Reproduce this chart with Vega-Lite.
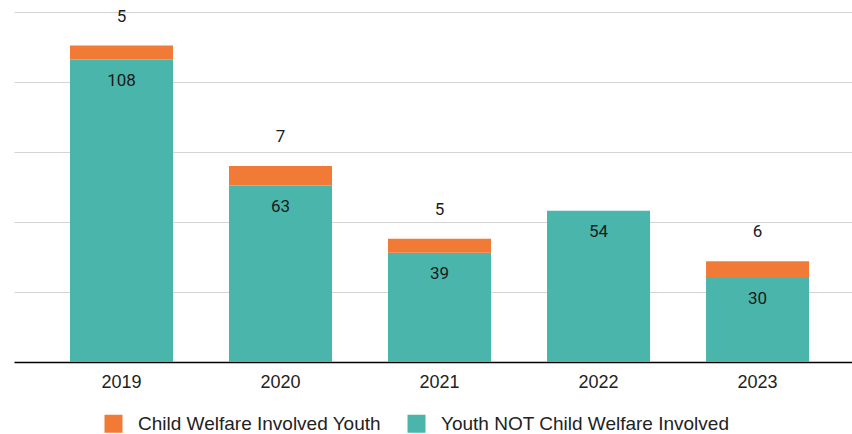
{
  "$schema": "https://vega.github.io/schema/vega-lite/v6.json",
  "width": 838,
  "height": 350,
  "autosize": {"type": "none"},
  "padding": {"left": 14, "top": 12, "right": 0, "bottom": 72},
  "background": "white",
  "config": {
    "view": {"stroke": null},
    "font": "Liberation Sans",
    "axis": {"labelFont": "Liberation Sans", "labelColor": "#222222", "labelFontSize": 18}
  },
  "data": {
    "values": [
      {"year": "2019", "category": "Youth NOT Child Welfare Involved", "value": 108, "o": 1},
      {"year": "2019", "category": "Child Welfare Involved Youth", "value": 5, "o": 2},
      {"year": "2020", "category": "Youth NOT Child Welfare Involved", "value": 63, "o": 1},
      {"year": "2020", "category": "Child Welfare Involved Youth", "value": 7, "o": 2},
      {"year": "2021", "category": "Youth NOT Child Welfare Involved", "value": 39, "o": 1},
      {"year": "2021", "category": "Child Welfare Involved Youth", "value": 5, "o": 2},
      {"year": "2022", "category": "Youth NOT Child Welfare Involved", "value": 54, "o": 1},
      {"year": "2022", "category": "Child Welfare Involved Youth", "value": 0, "o": 2},
      {"year": "2023", "category": "Youth NOT Child Welfare Involved", "value": 30, "o": 1},
      {"year": "2023", "category": "Child Welfare Involved Youth", "value": 6, "o": 2}
    ]
  },
  "transform": [
    {"stack": "value", "groupby": ["year"], "sort": [{"field": "o"}], "as": ["v0", "v1"]}
  ],
  "encoding": {
    "x": {
      "field": "year", "type": "nominal", "title": null,
      "scale": {"paddingInner": 0.352, "paddingOuter": 0.311, "align": 0.566},
      "axis": {"labelAngle": 0, "ticks": false, "domainColor": "#000000", "domainWidth": 1.5, "labelPadding": 11, "grid": false}
    }
  },
  "layer": [
    {
      "mark": {"type": "bar"},
      "encoding": {
        "y": {
          "field": "v1", "type": "quantitative", "title": null,
          "scale": {"domain": [0, 125], "nice": false},
          "axis": {"values": [0, 25, 50, 75, 100, 125], "labels": false, "ticks": false, "domain": false, "gridColor": "#d4d4d4", "gridWidth": 1.2}
        },
        "y2": {"field": "v0"},
        "color": {
          "field": "category", "type": "nominal",
          "scale": {"domain": ["Child Welfare Involved Youth", "Youth NOT Child Welfare Involved"], "range": ["#F17A36", "#4AB5AB"]},
          "legend": {
            "orient": "none", "legendX": 90, "legendY": 402, "direction": "horizontal", "title": null,
            "symbolType": "square", "symbolSize": 324, "symbolStrokeWidth": 0,
            "labelFontSize": 19, "labelColor": "#222222", "labelFont": "Liberation Sans", "labelLimit": 400,
            "labelOffset": 15, "columnPadding": 26
          }
        }
      }
    },
    {
      "transform": [{"filter": "datum.o == 1"}],
      "mark": {"type": "text", "baseline": "middle", "dy": 21, "fontSize": 17, "font": "Roboto", "color": "#1a1a1a"},
      "encoding": {
        "y": {"field": "v1", "type": "quantitative"},
        "text": {"field": "value", "type": "quantitative"}
      }
    },
    {
      "transform": [{"filter": "datum.o == 2 && datum.value > 0"}],
      "mark": {"type": "text", "baseline": "middle", "dy": -29, "fontSize": 17, "font": "Roboto", "color": "#1a1a1a"},
      "encoding": {
        "y": {"field": "v1", "type": "quantitative"},
        "text": {"field": "value", "type": "quantitative"}
      }
    }
  ]
}
